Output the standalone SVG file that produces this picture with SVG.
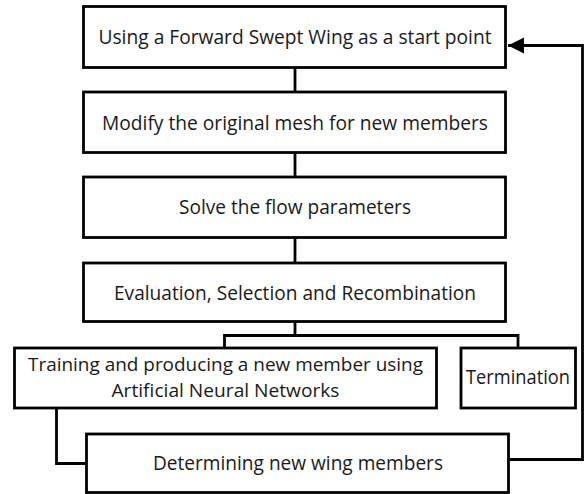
<svg xmlns="http://www.w3.org/2000/svg" width="584" height="494" viewBox="0 0 584 494">
<style>
.box{fill:#fff;stroke:#000;stroke-width:2.8}
.t{font-family:"Open Sans","Liberation Sans",sans-serif;font-size:20px;fill:#1a1a1a;text-anchor:middle}
.s{font-size:19px}
.c{fill:none;stroke:#000;stroke-width:2.8;stroke-linejoin:miter}
</style>
<defs>
<marker id="arr" markerUnits="userSpaceOnUse" markerWidth="18" markerHeight="18" refX="16" refY="8" orient="auto">
<path d="M0,0 L16,8 L0,16 Z" fill="#000"/>
</marker>
</defs>
<rect width="584" height="494" fill="#fff"/>
<g id="connectors">
<path class="c" d="M295,67.5 V92"/>
<path class="c" d="M295,152.5 V177"/>
<path class="c" d="M295,237.5 V263"/>
<path class="c" d="M295,321.5 V335.5"/>
<path class="c" d="M224.5,348 V335.5 H518 V348"/>
<path class="c" d="M56.5,408 V463.5 H86"/>
<path class="c" d="M509,459.5 H582.5 V45.5 H523"/>
<path class="c" d="M524,45.5 H508" marker-end="url(#arr)"/>
</g>
<g id="n1">
<rect class="box" x="83.5" y="6.5" width="422" height="61"/>
<text class="t" x="295" y="43.5" textLength="393" lengthAdjust="spacingAndGlyphs">Using a Forward Swept Wing as a start point</text>
</g>
<g id="n2">
<rect class="box" x="83.5" y="92" width="422" height="60.5"/>
<text class="t" x="295" y="129.5" textLength="386" lengthAdjust="spacingAndGlyphs">Modify the original mesh for new members</text>
</g>
<g id="n3">
<rect class="box" x="83.5" y="177" width="422" height="60.5"/>
<text class="t" x="295" y="213.5" textLength="232" lengthAdjust="spacingAndGlyphs">Solve the flow parameters</text>
</g>
<g id="n4">
<rect class="box" x="83.5" y="263" width="422" height="58.5"/>
<text class="t" x="295" y="300" textLength="362" lengthAdjust="spacingAndGlyphs">Evaluation, Selection and Recombination</text>
</g>
<g id="n5">
<rect class="box" x="14.5" y="348" width="422" height="60"/>
<text class="t s" x="225.5" y="371" textLength="395" lengthAdjust="spacingAndGlyphs">Training and producing a new member using</text>
<text class="t s" x="225.5" y="397" textLength="228" lengthAdjust="spacingAndGlyphs">Artificial Neural Networks</text>
</g>
<g id="n6">
<rect class="box" x="461" y="348" width="114.5" height="60"/>
<text class="t" x="518" y="384" textLength="104" lengthAdjust="spacingAndGlyphs">Termination</text>
</g>
<g id="n7">
<rect class="box" x="86.5" y="434" width="422" height="58.5"/>
<text class="t" x="298" y="470" textLength="290" lengthAdjust="spacingAndGlyphs">Determining new wing members</text>
</g>
</svg>
